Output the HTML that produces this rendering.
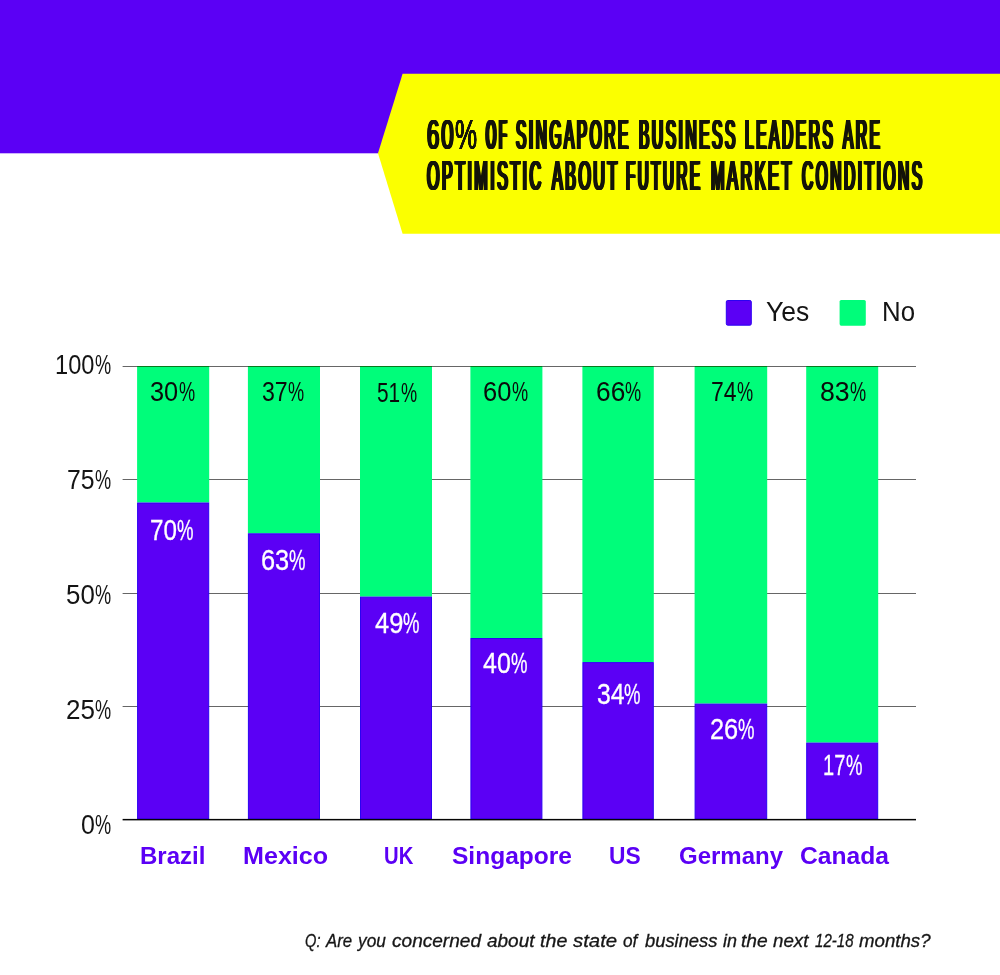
<!DOCTYPE html>
<html lang="en"><head><meta charset="utf-8"><title>60% of Singapore business leaders are optimistic about future market conditions</title>
<style>
html,body{margin:0;padding:0;background:#fff}
#page{position:relative;width:1000px;height:975px;overflow:hidden;background:#fff;font-family:'Liberation Sans',sans-serif}
.shapes{position:absolute;left:0;top:0;display:block}
h1,p,.legend,.yaxis,.values,.xaxis{margin:0;padding:0;font:inherit;position:static}
.t{position:absolute;line-height:1;white-space:pre;transform-origin:0 0;margin:0;padding:0}
.ttl{font-weight:400}
.reg{font-weight:400}
.bold{font-weight:700}
.ital{font-style:italic;font-weight:400}
</style></head>
<body>
<div id="page">
<svg class="shapes" width="1000" height="975" viewBox="0 0 1000 975">
<rect x="0" y="0" width="1000" height="153.3" fill="#5B00F5"/>
<polygon points="402.6,73.8 1000,73.8 1000,233.8 402.6,233.8 378,153.3" fill="#FBFF00"/>
<rect x="726.3" y="300.5" width="25" height="24.7" rx="1.4" fill="#5B00F5" stroke="#2a02f2" stroke-width="1"/>
<rect x="839.6" y="300" width="26.2" height="25.7" rx="1.6" fill="#00FD7A"/>
<rect x="122.6" y="366" width="793.4" height="1" fill="#666666"/>
<rect x="122.6" y="479" width="793.4" height="1" fill="#666666"/>
<rect x="122.6" y="593" width="793.4" height="1" fill="#666666"/>
<rect x="122.6" y="706" width="793.4" height="1" fill="#666666"/>
<rect x="137.1" y="366.2" width="72.1" height="136.3" fill="#00FD7A"/>
<rect x="137.1" y="366" width="72.1" height="1" fill="#067a1e"/>
<rect x="137.6" y="503.0" width="71.1" height="316.0" fill="#5B00F5" stroke="#2a02f2" stroke-width="1"/>
<rect x="247.9" y="366.2" width="72.1" height="167.1" fill="#00FD7A"/>
<rect x="247.9" y="366" width="72.1" height="1" fill="#067a1e"/>
<rect x="248.4" y="533.8" width="71.1" height="285.2" fill="#5B00F5" stroke="#2a02f2" stroke-width="1"/>
<rect x="360.0" y="366.2" width="72.0" height="230.4" fill="#00FD7A"/>
<rect x="360.0" y="366" width="72.0" height="1" fill="#067a1e"/>
<rect x="360.5" y="597.1" width="71.0" height="221.9" fill="#5B00F5" stroke="#2a02f2" stroke-width="1"/>
<rect x="470.4" y="366.2" width="72.0" height="271.8" fill="#00FD7A"/>
<rect x="470.4" y="366" width="72.0" height="1" fill="#067a1e"/>
<rect x="470.9" y="638.5" width="71.0" height="180.5" fill="#5B00F5" stroke="#2a02f2" stroke-width="1"/>
<rect x="582.4" y="366.2" width="71.4" height="295.9" fill="#00FD7A"/>
<rect x="582.4" y="366" width="71.4" height="1" fill="#067a1e"/>
<rect x="582.9" y="662.6" width="70.4" height="156.4" fill="#5B00F5" stroke="#2a02f2" stroke-width="1"/>
<rect x="694.6" y="366.2" width="72.6" height="337.4" fill="#00FD7A"/>
<rect x="694.6" y="366" width="72.6" height="1" fill="#067a1e"/>
<rect x="695.1" y="704.1" width="71.6" height="114.9" fill="#5B00F5" stroke="#2a02f2" stroke-width="1"/>
<rect x="806.2" y="366.2" width="72.0" height="376.4" fill="#00FD7A"/>
<rect x="806.2" y="366" width="72.0" height="1" fill="#067a1e"/>
<rect x="806.7" y="743.1" width="71.0" height="75.9" fill="#5B00F5" stroke="#2a02f2" stroke-width="1"/>
<rect x="122.6" y="818.9" width="793.4" height="1.5" fill="#050505"/>
</svg>
<h1>
<span class="t ttl" style="left:426.57px;top:113px;font-size:42.59px;color:#14140a;transform:scaleX(0.5216);text-shadow:0.61px 0 0 currentColor,-0.61px 0 0 currentColor,1.21px 0 0 currentColor,-1.21px 0 0 currentColor,1.82px 0 0 currentColor,-1.82px 0 0 currentColor;letter-spacing:3.63px;">60</span><span class="t ttl" style="left:454.92px;top:113px;font-size:42.59px;color:#14140a;transform:scaleX(0.5818);text-shadow:0.16px 0 0 currentColor,-0.16px 0 0 currentColor,0.33px 0 0 currentColor,-0.33px 0 0 currentColor,0.49px 0 0 currentColor,-0.49px 0 0 currentColor;letter-spacing:0.98px;">%</span>
<span class="t ttl" style="left:486.06px;top:113px;font-size:42.59px;color:#14140a;transform:scaleX(0.3037);text-shadow:1.53px 0 0 currentColor,-1.53px 0 0 currentColor,3.06px 0 0 currentColor,-3.06px 0 0 currentColor,4.60px 0 0 currentColor,-4.60px 0 0 currentColor;letter-spacing:9.19px;">OF</span>
<span class="t ttl" style="left:516.24px;top:113px;font-size:42.59px;color:#14140a;transform:scaleX(0.3632);text-shadow:1.17px 0 0 currentColor,-1.17px 0 0 currentColor,2.34px 0 0 currentColor,-2.34px 0 0 currentColor,3.50px 0 0 currentColor,-3.50px 0 0 currentColor;letter-spacing:7.01px;">SINGAPORE</span>
<span class="t ttl" style="left:639.10px;top:113px;font-size:42.59px;color:#14140a;transform:scaleX(0.3646);text-shadow:1.16px 0 0 currentColor,-1.16px 0 0 currentColor,2.32px 0 0 currentColor,-2.32px 0 0 currentColor,3.49px 0 0 currentColor,-3.49px 0 0 currentColor;letter-spacing:6.97px;">BUSINESS</span>
<span class="t ttl" style="left:745.30px;top:113px;font-size:42.59px;color:#14140a;transform:scaleX(0.3653);text-shadow:1.16px 0 0 currentColor,-1.16px 0 0 currentColor,2.31px 0 0 currentColor,-2.31px 0 0 currentColor,3.47px 0 0 currentColor,-3.47px 0 0 currentColor;letter-spacing:6.94px;">LEADERS</span>
<span class="t ttl" style="left:842.97px;top:113px;font-size:42.59px;color:#14140a;transform:scaleX(0.3625);text-shadow:1.17px 0 0 currentColor,-1.17px 0 0 currentColor,2.35px 0 0 currentColor,-2.35px 0 0 currentColor,3.52px 0 0 currentColor,-3.52px 0 0 currentColor;letter-spacing:7.05px;">ARE</span>
<span class="t ttl" style="left:427.17px;top:154px;font-size:42.59px;color:#14140a;transform:scaleX(0.3762);text-shadow:1.11px 0 0 currentColor,-1.11px 0 0 currentColor,2.21px 0 0 currentColor,-2.21px 0 0 currentColor,3.32px 0 0 currentColor,-3.32px 0 0 currentColor;letter-spacing:6.64px;">OPTIMISTIC</span>
<span class="t ttl" style="left:551.72px;top:154px;font-size:42.59px;color:#14140a;transform:scaleX(0.3765);text-shadow:1.11px 0 0 currentColor,-1.11px 0 0 currentColor,2.21px 0 0 currentColor,-2.21px 0 0 currentColor,3.32px 0 0 currentColor,-3.32px 0 0 currentColor;letter-spacing:6.63px;">ABOUT</span>
<span class="t ttl" style="left:625.89px;top:154px;font-size:42.59px;color:#14140a;transform:scaleX(0.3531);text-shadow:1.22px 0 0 currentColor,-1.22px 0 0 currentColor,2.44px 0 0 currentColor,-2.44px 0 0 currentColor,3.66px 0 0 currentColor,-3.66px 0 0 currentColor;letter-spacing:7.32px;">FUTURE</span>
<span class="t ttl" style="left:710.70px;top:154px;font-size:42.59px;color:#14140a;transform:scaleX(0.3839);text-shadow:1.07px 0 0 currentColor,-1.07px 0 0 currentColor,2.14px 0 0 currentColor,-2.14px 0 0 currentColor,3.21px 0 0 currentColor,-3.21px 0 0 currentColor;letter-spacing:6.42px;">MARKET</span>
<span class="t ttl" style="left:802.15px;top:154px;font-size:42.59px;color:#14140a;transform:scaleX(0.3637);text-shadow:1.17px 0 0 currentColor,-1.17px 0 0 currentColor,2.33px 0 0 currentColor,-2.33px 0 0 currentColor,3.50px 0 0 currentColor,-3.50px 0 0 currentColor;letter-spacing:7.00px;">CONDITIONS</span>
</h1>
<div class="legend">
<span class="t reg" style="left:765.96px;top:299px;font-size:26.74px;color:#141414;transform:scaleX(0.9905);">Yes</span>
<span class="t reg" style="left:881.63px;top:299px;font-size:26.74px;color:#141414;transform:scaleX(0.9659);">No</span>
</div>
<div class="yaxis">
<span class="t reg" style="left:54.89px;top:351px;font-size:27.62px;color:#141414;transform:scaleX(0.8555);">100</span><span class="t reg" style="left:94.64px;top:351px;font-size:27.62px;color:#141414;transform:scaleX(0.6578);">%</span>
<span class="t reg" style="left:66.96px;top:466px;font-size:27.62px;color:#141414;transform:scaleX(0.8960);">75</span><span class="t reg" style="left:94.64px;top:466px;font-size:27.62px;color:#141414;transform:scaleX(0.6578);">%</span>
<span class="t reg" style="left:65.73px;top:581px;font-size:27.62px;color:#141414;transform:scaleX(0.9368);">50</span><span class="t reg" style="left:94.64px;top:581px;font-size:27.62px;color:#141414;transform:scaleX(0.6578);">%</span>
<span class="t reg" style="left:65.59px;top:696px;font-size:27.62px;color:#141414;transform:scaleX(0.9424);">25</span><span class="t reg" style="left:94.64px;top:696px;font-size:27.62px;color:#141414;transform:scaleX(0.6578);">%</span>
<span class="t reg" style="left:80.50px;top:811px;font-size:27.62px;color:#141414;transform:scaleX(0.9047);">0</span><span class="t reg" style="left:94.64px;top:811px;font-size:27.62px;color:#141414;transform:scaleX(0.6578);">%</span>
</div>
<div class="values">
<span class="t reg" style="left:150.38px;top:378px;font-size:27.62px;color:#0a0a0a;transform:scaleX(0.9183);">30</span><span class="t reg" style="left:178.74px;top:378px;font-size:27.62px;color:#0a0a0a;transform:scaleX(0.6578);">%</span>
<span class="t reg" style="left:262.16px;top:378px;font-size:27.62px;color:#0a0a0a;transform:scaleX(0.8381);">37</span><span class="t reg" style="left:288.14px;top:378px;font-size:27.62px;color:#0a0a0a;transform:scaleX(0.6578);">%</span>
<span class="t reg" style="left:377.06px;top:379px;font-size:27.62px;color:#0a0a0a;transform:scaleX(0.7535);">51</span><span class="t reg" style="left:400.54px;top:379px;font-size:27.62px;color:#0a0a0a;transform:scaleX(0.6578);">%</span>
<span class="t reg" style="left:483.01px;top:378px;font-size:27.62px;color:#0a0a0a;transform:scaleX(0.9239);">60</span><span class="t reg" style="left:511.54px;top:378px;font-size:27.62px;color:#0a0a0a;transform:scaleX(0.6578);">%</span>
<span class="t reg" style="left:595.57px;top:378px;font-size:27.62px;color:#0a0a0a;transform:scaleX(0.9531);">66</span><span class="t reg" style="left:624.94px;top:378px;font-size:27.62px;color:#0a0a0a;transform:scaleX(0.6578);">%</span>
<span class="t reg" style="left:711.15px;top:378px;font-size:27.62px;color:#0a0a0a;transform:scaleX(0.8320);">74</span><span class="t reg" style="left:736.94px;top:378px;font-size:27.62px;color:#0a0a0a;transform:scaleX(0.6578);">%</span>
<span class="t reg" style="left:819.79px;top:378px;font-size:27.62px;color:#0a0a0a;transform:scaleX(0.9659);">83</span><span class="t reg" style="left:849.54px;top:378px;font-size:27.62px;color:#0a0a0a;transform:scaleX(0.6578);">%</span>
<span class="t reg" style="left:150.26px;top:516px;font-size:29.07px;color:#ffffff;transform:scaleX(0.8333);-webkit-text-stroke:0.3px #fff;">70</span><span class="t reg" style="left:177.36px;top:516px;font-size:29.07px;color:#ffffff;transform:scaleX(0.6375);-webkit-text-stroke:0.3px #fff;">%</span>
<span class="t reg" style="left:260.81px;top:546px;font-size:29.07px;color:#ffffff;transform:scaleX(0.8733);-webkit-text-stroke:0.3px #fff;">63</span><span class="t reg" style="left:289.16px;top:546px;font-size:29.07px;color:#ffffff;transform:scaleX(0.6375);-webkit-text-stroke:0.3px #fff;">%</span>
<span class="t reg" style="left:374.56px;top:609px;font-size:29.07px;color:#ffffff;transform:scaleX(0.8780);-webkit-text-stroke:0.3px #fff;">49</span><span class="t reg" style="left:403.06px;top:609px;font-size:29.07px;color:#ffffff;transform:scaleX(0.6375);-webkit-text-stroke:0.3px #fff;">%</span>
<span class="t reg" style="left:483.17px;top:649px;font-size:29.07px;color:#ffffff;transform:scaleX(0.8585);-webkit-text-stroke:0.3px #fff;">40</span><span class="t reg" style="left:511.06px;top:649px;font-size:29.07px;color:#ffffff;transform:scaleX(0.6375);-webkit-text-stroke:0.3px #fff;">%</span>
<span class="t reg" style="left:596.55px;top:680px;font-size:29.07px;color:#ffffff;transform:scaleX(0.8528);-webkit-text-stroke:0.3px #fff;">34</span><span class="t reg" style="left:624.26px;top:680px;font-size:29.07px;color:#ffffff;transform:scaleX(0.6375);-webkit-text-stroke:0.3px #fff;">%</span>
<span class="t reg" style="left:709.61px;top:715px;font-size:29.07px;color:#ffffff;transform:scaleX(0.8733);-webkit-text-stroke:0.3px #fff;">26</span><span class="t reg" style="left:737.96px;top:715px;font-size:29.07px;color:#ffffff;transform:scaleX(0.6375);-webkit-text-stroke:0.3px #fff;">%</span>
<span class="t reg" style="left:823.02px;top:751px;font-size:29.07px;color:#ffffff;transform:scaleX(0.6892);-webkit-text-stroke:0.3px #fff;">17</span><span class="t reg" style="left:845.66px;top:751px;font-size:29.07px;color:#ffffff;transform:scaleX(0.6375);-webkit-text-stroke:0.3px #fff;">%</span>
</div>
<div class="xaxis">
<span class="t bold" style="left:139.72px;top:844px;font-size:24.42px;color:#5B00F5;transform:scaleX(0.9850);">Brazil</span>
<span class="t bold" style="left:243.26px;top:844px;font-size:24.42px;color:#5B00F5;transform:scaleX(1.0293);">Mexico</span>
<span class="t bold" style="left:383.76px;top:844px;font-size:24.42px;color:#5B00F5;transform:scaleX(0.8299);">UK</span>
<span class="t bold" style="left:452.05px;top:844px;font-size:24.42px;color:#5B00F5;transform:scaleX(1.0055);">Singapore</span>
<span class="t bold" style="left:609.20px;top:844px;font-size:24.42px;color:#5B00F5;transform:scaleX(0.9333);">US</span>
<span class="t bold" style="left:678.82px;top:844px;font-size:24.42px;color:#5B00F5;transform:scaleX(0.9837);">Germany</span>
<span class="t bold" style="left:799.79px;top:844px;font-size:24.42px;color:#5B00F5;transform:scaleX(1.0086);">Canada</span>
</div>
<p class="note">
<span class="t ital" style="left:305.17px;top:933px;font-size:17.59px;color:#161616;transform:scaleX(0.8348);-webkit-text-stroke:0.3px #161616;">Q:</span>
<span class="t ital" style="left:326.45px;top:933px;font-size:17.59px;color:#161616;transform:scaleX(0.9550);-webkit-text-stroke:0.3px #161616;">Are</span>
<span class="t ital" style="left:357.98px;top:933px;font-size:17.59px;color:#161616;transform:scaleX(0.9828);-webkit-text-stroke:0.3px #161616;">you</span>
<span class="t ital" style="left:391.86px;top:933px;font-size:17.59px;color:#161616;transform:scaleX(1.0845);-webkit-text-stroke:0.3px #161616;">concerned</span>
<span class="t ital" style="left:486.73px;top:933px;font-size:17.59px;color:#161616;transform:scaleX(1.0787);-webkit-text-stroke:0.3px #161616;">about</span>
<span class="t ital" style="left:540.16px;top:933px;font-size:17.59px;color:#161616;transform:scaleX(1.1183);-webkit-text-stroke:0.3px #161616;">the</span>
<span class="t ital" style="left:573.00px;top:933px;font-size:17.59px;color:#161616;transform:scaleX(1.1573);-webkit-text-stroke:0.3px #161616;">state</span>
<span class="t ital" style="left:623.11px;top:933px;font-size:17.59px;color:#161616;transform:scaleX(0.9778);-webkit-text-stroke:0.3px #161616;">of</span>
<span class="t ital" style="left:645.00px;top:933px;font-size:17.59px;color:#161616;transform:scaleX(1.0435);-webkit-text-stroke:0.3px #161616;">business</span>
<span class="t ital" style="left:722.75px;top:933px;font-size:17.59px;color:#161616;transform:scaleX(1.0196);-webkit-text-stroke:0.3px #161616;">in</span>
<span class="t ital" style="left:740.78px;top:933px;font-size:17.59px;color:#161616;transform:scaleX(1.0925);-webkit-text-stroke:0.3px #161616;">the</span>
<span class="t ital" style="left:772.73px;top:933px;font-size:17.59px;color:#161616;transform:scaleX(1.0667);-webkit-text-stroke:0.3px #161616;">next</span>
<span class="t ital" style="left:815.39px;top:933px;font-size:17.59px;color:#161616;transform:scaleX(0.8581);-webkit-text-stroke:0.3px #161616;">12-18</span>
<span class="t ital" style="left:859.33px;top:933px;font-size:17.59px;color:#161616;transform:scaleX(1.0617);-webkit-text-stroke:0.3px #161616;">months?</span>
</p>
</div>
</body></html>
